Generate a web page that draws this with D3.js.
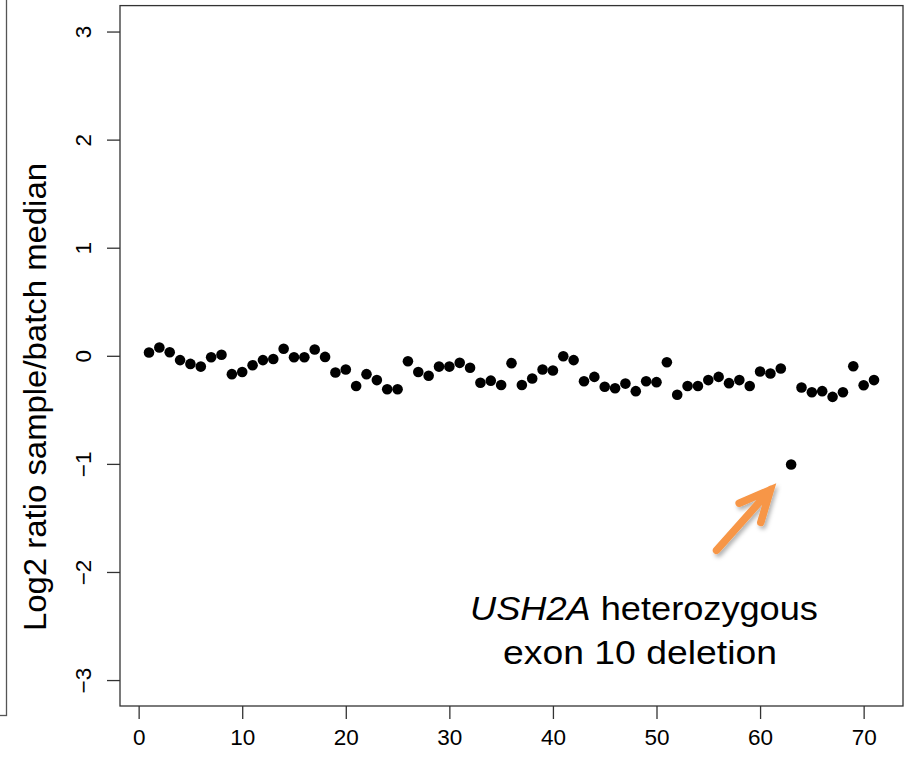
<!DOCTYPE html>
<html>
<head>
<meta charset="utf-8">
<script src="https://cdn.jsdelivr.net/npm/d3@7"></script>
<style>
    body { margin: 0; background: #fff; }
    #chart-area { width: 911px; height: 762px; }
    text { font-family: "Liberation Sans", Arial, sans-serif; fill: #000; }
</style>
</head>
<body>
<div id="chart-area"></div>
<script>
/*
Exon-level copy number plot: log2 ratio of sample vs batch median
Outlier at exon 63 is flagged as the USH2A exon 10 deletion
*/

// exon index along the panel
let exons = d3.range(1, 72);

// log2 ratio sample/batch median
let log2Ratios = [
    0.03, 0.077, 0.033, -0.04, -0.075, -0.10, -0.013, 0.01, -0.17, -0.15,
    -0.087, -0.04, -0.03, 0.065, -0.013, -0.013, 0.058, -0.01, -0.155, -0.127,
    -0.28, -0.17, -0.225, -0.31, -0.31, -0.05, -0.15, -0.185, -0.10, -0.10,
    -0.065, -0.11, -0.25, -0.23, -0.27, -0.068, -0.27, -0.21, -0.127, -0.136,
    -0.004, -0.04, -0.235, -0.195, -0.287, -0.30, -0.257, -0.327, -0.235, -0.244,
    -0.059, -0.36, -0.28, -0.28, -0.225, -0.195, -0.253, -0.225, -0.28, -0.145,
    -0.164, -0.118, -1.005, -0.293, -0.337, -0.327, -0.38, -0.337, -0.096, -0.272,
    -0.225
];

let xTicks = [0, 10, 20, 30, 40, 50, 60, 70];
let yTicks = [-3, -2, -1, 0, 1, 2, 3];

let yLabel = "Log2 ratio sample/batch median";
let noteGene = "USH2A";
let noteLine1 = " heterozygous";
let noteLine2 = "exon 10 deletion";

// arrow in data units: tail -> tip
let arrowTail = [55.8, -1.8];
let arrowTip = [61.0, -1.24];

class CopyNumberVis {

    constructor(parentElement, exons, ratios) {
        this.parentElement = parentElement;
        this.exons = exons;
        this.ratios = ratios;

        this.initVis()
    }

    initVis() {
        let vis = this;

        vis.margin = {top: 5.6, right: 8, bottom: 56, left: 120};
        vis.width = 911 - vis.margin.left - vis.margin.right;
        vis.height = 762 - vis.margin.top - vis.margin.bottom;

        vis.svg = d3.select("#" + vis.parentElement).append("svg")
            .attr("width", 911)
            .attr("height", 762);

        // edge of the neighbouring panel
        vis.svg.append("rect")
            .attr("x", -100).attr("y", -10)
            .attr("width", 106.5).attr("height", 725.5)
            .attr("fill", "none")
            .attr("stroke", "#555")
            .attr("stroke-width", 1.3);

        vis.g = vis.svg.append("g")
            .attr("transform", `translate(${vis.margin.left}, ${vis.margin.top})`);

        // R-style 4% padding on both axes
        vis.x = d3.scaleLinear()
            .domain([1 - 0.04 * 70, 71 + 0.04 * 70])
            .range([0, vis.width]);

        vis.y = d3.scaleLinear()
            .domain([-3.24, 3.24])
            .range([vis.height, 0]);

        vis.xAxis = d3.axisBottom(vis.x)
            .tickValues(xTicks)
            .tickSize(13)
            .tickPadding(10);

        vis.yAxis = d3.axisLeft(vis.y)
            .tickValues(yTicks)
            .tickSize(13)
            .tickFormat(d => d < 0 ? "\u2212" + Math.abs(d) : d);

        vis.wrangleData()
    }

    wrangleData() {
        let vis = this;

        vis.points = vis.exons.map((e, i) => ({exon: e, ratio: vis.ratios[i]}));

        vis.updateVis()
    }

    updateVis() {
        let vis = this;

        // x axis
        let gx = vis.g.append("g")
            .attr("transform", `translate(0, ${vis.height})`)
            .call(vis.xAxis);
        gx.select(".domain").remove();
        gx.selectAll(".tick line").attr("stroke", "#333").attr("stroke-width", 1.3);
        gx.selectAll(".tick text")
            .style("font-size", "22.5px")
            .attr("dy", "0.71em");

        // y axis, labels rotated like base R
        let gy = vis.g.append("g").call(vis.yAxis);
        gy.select(".domain").remove();
        gy.selectAll(".tick line").attr("stroke", "#333").attr("stroke-width", 1.3);
        gy.selectAll(".tick text")
            .style("font-size", "22.5px")
            .attr("text-anchor", "middle")
            .attr("x", null)
            .attr("dy", null)
            .attr("transform", "translate(-29, 0) rotate(-90)");

        // plot box
        vis.g.append("rect")
            .attr("width", vis.width)
            .attr("height", vis.height)
            .attr("fill", "none")
            .attr("stroke", "#333")
            .attr("stroke-width", 1.3);

        // y label
        vis.svg.append("text")
            .attr("transform", `translate(46, 397) rotate(-90)`)
            .attr("text-anchor", "middle")
            .style("font-size", "31px")
            .attr("textLength", 468)
            .attr("lengthAdjust", "spacingAndGlyphs")
            .text(yLabel);

        // points
        vis.g.selectAll(".dot")
            .data(vis.points)
            .enter().append("circle")
            .attr("class", "dot")
            .attr("cx", d => vis.x(d.exon))
            .attr("cy", d => vis.y(d.ratio))
            .attr("r", 5.3)
            .attr("fill", "#000");

        // annotation arrow
        let defs = vis.svg.append("defs");
        defs.append("filter").attr("id", "shadow")
            .attr("x", "-50%").attr("y", "-50%").attr("width", "200%").attr("height", "200%")
            .append("feDropShadow")
            .attr("dx", 2).attr("dy", 3).attr("stdDeviation", 2)
            .attr("flood-color", "#000").attr("flood-opacity", 0.3);

        let tx = vis.x(arrowTip[0]), ty = vis.y(arrowTip[1]);
        let sx = vis.x(arrowTail[0]), sy = vis.y(arrowTail[1]);
        let ang = Math.atan2(ty - sy, tx - sx);
        let headLen = 34, spread = 0.44;
        let arrowPath = `M${sx},${sy}L${tx},${ty}`
            + `M${tx - headLen * Math.cos(ang - spread)},${ty - headLen * Math.sin(ang - spread)}L${tx},${ty}`
            + `L${tx - headLen * Math.cos(ang + spread)},${ty - headLen * Math.sin(ang + spread)}`;

        vis.g.append("path")
            .attr("d", arrowPath)
            .attr("fill", "none")
            .attr("stroke", "#F79646")
            .attr("stroke-width", 7.5)
            .attr("stroke-linecap", "round")
            .attr("stroke-linejoin", "miter")
            .attr("filter", "url(#shadow)");

        // annotation text
        let note = vis.svg.append("text")
            .attr("x", 644)
            .attr("text-anchor", "middle")
            .style("font-size", "33px");

        let l1 = note.append("tspan").attr("x", 644).attr("y", 620)
            .attr("textLength", 348).attr("lengthAdjust", "spacingAndGlyphs");
        l1.append("tspan").style("font-style", "italic").text(noteGene);
        l1.append("tspan").text(noteLine1);

        note.append("tspan").attr("x", 640).attr("y", 664)
            .attr("textLength", 274).attr("lengthAdjust", "spacingAndGlyphs")
            .text(noteLine2);
    }
}

new CopyNumberVis("chart-area", exons, log2Ratios);
</script>
</body>
</html>
